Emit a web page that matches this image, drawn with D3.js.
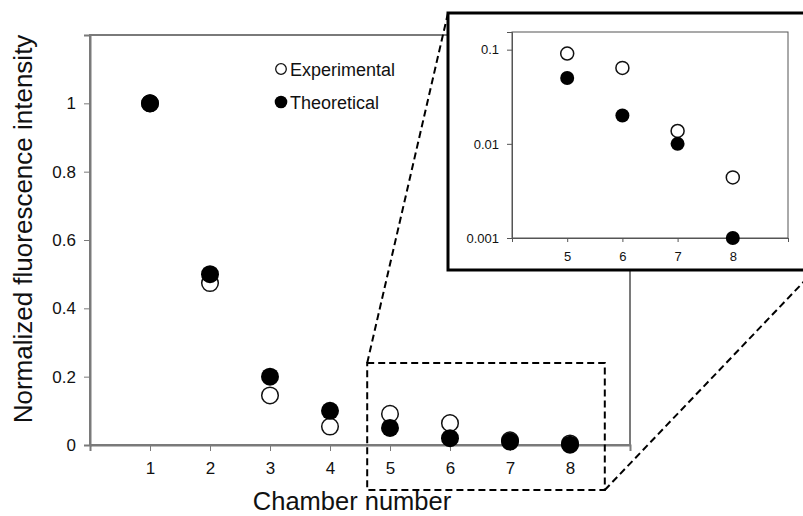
<!DOCTYPE html>
<html><head><meta charset="utf-8">
<script src="https://cdn.jsdelivr.net/npm/d3@7"></script>
<style>body{margin:0;background:#fff}svg{display:block;font-family:"Liberation Sans",Arial,Helvetica,sans-serif}</style>
</head><body><svg id="c" width="803" height="516"></svg>
<script>
const chambers = [1,2,3,4,5,6,7,8];
const experimental = [1.0,0.474,0.145,0.054,0.091,0.064,0.0137,0.0044];
const theoretical = [1.0,0.5,0.2,0.1,0.05,0.02,0.01,0.001];
const yTicks = [0,0.2,0.4,0.6,0.8,1];
const insetChambers = [5,6,7,8];
const insetYTicks = [0.001,0.01,0.1];
const legendLabels = ["Experimental","Theoretical"];

const svg = d3.select("#c");
const axisColor = "#7a7a7a";

// main scales
const x = d3.scaleLinear().domain([0,9]).range([90,630]);
const y = d3.scaleLinear().domain([0,1.2]).range([445,35]);

// frame
const g = svg.append("g");
g.append("rect").attr("x",x(0)).attr("y",y(1.2)).attr("width",x(9)-x(0)).attr("height",y(0)-y(1.2))
 .attr("fill","none").attr("stroke",axisColor).attr("stroke-width",2);

// axes
const xAxis = d3.axisBottom(x).tickValues([0].concat(chambers,[9])).tickSize(6)
  .tickFormat(d => chambers.includes(d) ? d : "");
const gx = g.append("g").attr("transform",`translate(0,${y(0)})`).call(xAxis);
gx.select(".domain").attr("stroke",axisColor).attr("stroke-width",2);
gx.selectAll(".tick line").attr("stroke",axisColor).attr("stroke-width",1);
gx.selectAll(".tick text").attr("font-size",17).attr("fill","#111").attr("dy","1.2em")
  .attr("font-family","Liberation Sans, Arial, sans-serif");

const yAxis = d3.axisLeft(y).tickValues(yTicks).tickSize(6).tickFormat(d3.format("~g"));
const gy = g.append("g").attr("transform",`translate(${x(0)},0)`).call(yAxis);
gy.select(".domain").attr("stroke",axisColor).attr("stroke-width",2);
gy.selectAll(".tick line").attr("stroke",axisColor).attr("stroke-width",1);
gy.selectAll(".tick text").attr("font-size",17).attr("fill","#111").attr("x",-14)
  .attr("font-family","Liberation Sans, Arial, sans-serif");

// points
const ptsE = chambers.map((c,i)=>({c,v:experimental[i]}));
const ptsT = chambers.map((c,i)=>({c,v:theoretical[i]}));
g.selectAll("circle.e").data(ptsE).join("circle").attr("class","e")
  .attr("cx",d=>x(d.c)).attr("cy",d=>y(d.v)).attr("r",8.3)
  .attr("fill","#fff").attr("stroke","#111").attr("stroke-width",1.5);
g.selectAll("circle.t").data(ptsT).join("circle").attr("class","t")
  .attr("cx",d=>x(d.c)).attr("cy",d=>y(d.v)).attr("r",9)
  .attr("fill","#000");

// legend
const leg = g.append("g");
legendLabels.forEach((lab,i)=>{
  const ly = 69 + i*33;
  if(i===0) leg.append("circle").attr("cx",281).attr("cy",ly).attr("r",5.3).attr("fill","#fff").attr("stroke","#111").attr("stroke-width",1.3);
  else leg.append("circle").attr("cx",281).attr("cy",ly).attr("r",6.3).attr("fill","#000");
  leg.append("text").attr("x",290).attr("y",ly+6.5).attr("font-size",18).attr("fill","#111").text(lab);
});

// axis titles
svg.append("text").attr("x",352).attr("y",510).attr("text-anchor","middle").attr("font-size",25.5).attr("fill","#111").text("Chamber number");
svg.append("text").attr("transform","translate(32,229) rotate(-90)").attr("text-anchor","middle").attr("font-size",26).attr("fill","#111").text("Normalized fluorescence intensity");

// zoom indicator (dashed)
const dash = "7,4";
const bx0 = x(4.62), bx1 = x(8.58), by0 = y(0.24), by1 = 490;
svg.append("rect").attr("x",bx0).attr("y",by0).attr("width",bx1-bx0).attr("height",by1-by0)
  .attr("fill","none").attr("stroke","#000").attr("stroke-width",2).attr("stroke-dasharray",dash);
svg.append("line").attr("x1",bx0).attr("y1",by0).attr("x2",448).attr("y2",13)
  .attr("stroke","#000").attr("stroke-width",2).attr("stroke-dasharray",dash);
svg.append("line").attr("x1",bx1).attr("y1",by1).attr("x2",815).attr("y2",270)
  .attr("stroke","#000").attr("stroke-width",2).attr("stroke-dasharray",dash);

// inset
const ins = svg.append("g");
ins.append("rect").attr("x",448).attr("y",13).attr("width",370).attr("height",257)
  .attr("fill","#fff").attr("stroke","#000").attr("stroke-width",3);
const ix = d3.scaleLinear().domain([4,9]).range([512,788]);
const iy = d3.scaleLog().domain([0.001,0.154]).range([238,32]);
ins.append("rect").attr("x",ix(4)).attr("y",iy(0.154)).attr("width",ix(9)-ix(4)).attr("height",iy(0.001)-iy(0.154))
  .attr("fill","none").attr("stroke","#555").attr("stroke-width",1);
const ixAxis = d3.axisBottom(ix).tickValues([4].concat(insetChambers,[9])).tickSize(4)
  .tickFormat(d=>insetChambers.includes(d)?d:"");
const igx = ins.append("g").attr("transform",`translate(0,${iy(0.001)})`).call(ixAxis);
igx.select(".domain").attr("stroke","#555");
igx.selectAll(".tick line").attr("stroke","#555");
igx.selectAll(".tick text").attr("font-size",13).attr("fill","#111").attr("dy","1.2em")
  .attr("font-family","Liberation Sans, Arial, sans-serif");
const iyAxis = d3.axisLeft(iy).tickValues(insetYTicks).tickSize(5).tickFormat(d3.format("~g"));
const igy = ins.append("g").attr("transform",`translate(${ix(4)},0)`).call(iyAxis);
igy.select(".domain").attr("stroke","#555");
igy.selectAll(".tick line").attr("stroke","#555");
igy.selectAll(".tick text").attr("font-size",13).attr("fill","#111").attr("x",-13)
  .attr("font-family","Liberation Sans, Arial, sans-serif");

const iE = ptsE.filter(d=>insetChambers.includes(d.c));
const iT = ptsT.filter(d=>insetChambers.includes(d.c));
ins.selectAll("circle.ie").data(iE).join("circle").attr("class","ie")
  .attr("cx",d=>ix(d.c)).attr("cy",d=>iy(d.v)).attr("r",6.5)
  .attr("fill","#fff").attr("stroke","#111").attr("stroke-width",1.5);
ins.selectAll("circle.it").data(iT).join("circle").attr("class","it")
  .attr("cx",d=>ix(d.c)).attr("cy",d=>iy(d.v)).attr("r",7)
  .attr("fill","#000");
</script></body></html>
